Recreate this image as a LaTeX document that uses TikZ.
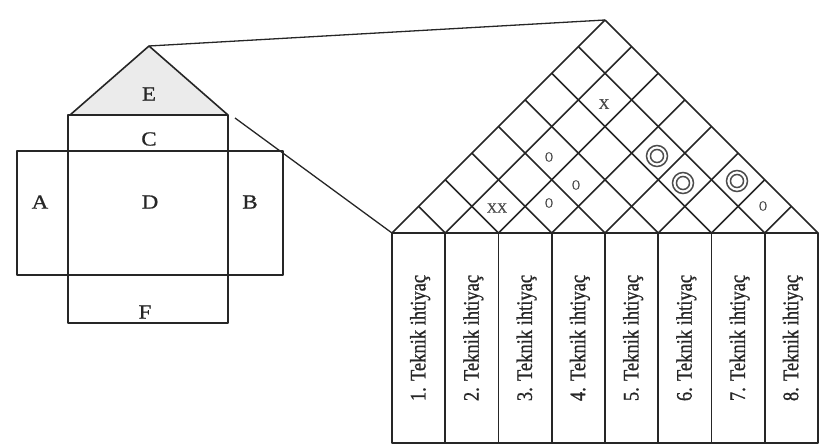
\documentclass[tikz,border=0pt]{standalone}
\usepackage{fontspec}
\setmainfont{Liberation Serif}
\newfontfamily\inkfont[FakeBold=0.9]{Liberation Serif}
\begin{document}
\begin{tikzpicture}[x=1pt,y=-1pt,
  ink/.style={draw=black!85, line width=1.6pt, line join=round},
  thinink/.style={draw=black!85, line width=1.3pt},
  letter/.style={font=\inkfont\fontsize{20}{20}\selectfont, text=black!85, inner sep=0pt},
  collabel/.style={rotate=90, font=\inkfont\fontsize{18.5}{19}\selectfont, text=black!85, inner sep=0pt},
  symb/.style={font=\inkfont\fontsize{14}{14}\selectfont, text=black!70, inner sep=0pt},
  ring/.style={draw=black!70, line width=1.5pt}]
\useasboundingbox (0,0) rectangle (819,447);

% ---- small house of quality ----
\fill[black!8] (70,115) -- (149,46) -- (228,115) -- cycle;
\draw[ink] (68,115) rectangle (228,323);
\draw[ink] (17,151) rectangle (283,275);
\draw[ink] (70,115) -- (149,46) -- (228,115);
\coordinate (roofTop) at (149,46);
\coordinate (roofRight) at (235,118);

\node[letter] (lE) at (149,94) {\scalebox{1.15}[1]{E}};
\node[letter] (lC) at (149,139) {\scalebox{1.15}[1]{C}};
\node[letter] (lA) at (40,202) {\scalebox{1.15}[1]{A}};
\node[letter] (lD) at (150,202) {\scalebox{1.15}[1]{D}};
\node[letter] (lB) at (250,202) {\scalebox{1.15}[1]{B}};
\node[letter] (lF) at (145,312) {\scalebox{1.15}[1]{F}};

% ---- correlation roof (lattice) ----
\coordinate (qApex) at (605,20);
\coordinate (qLeft) at (392,233);
\foreach \i in {0,...,8} {
  \pgfmathsetmacro\xi{392+53.25*\i}
  \pgfmathsetmacro\ur{26.625*(8-\i)}
  \pgfmathsetmacro\ul{26.625*\i}
  \draw[ink] (\xi,233) -- ++(\ur,-\ur);
  \draw[ink] (\xi,233) -- ++(-\ul,-\ul);
}

% ---- technical requirement columns ----
\foreach \i in {1,...,8} {
  \pgfmathsetmacro\xa{392+53.25*(\i-1)}
  \pgfmathsetmacro\xb{392+53.25*\i}
  \pgfmathsetmacro\xc{392+53.25*(\i-0.5)}
  \draw[ink] (\xa,233) rectangle (\xb,443);
  \node[collabel] (col\i) at (\xc+1.5,338) {\scalebox{1}[1.2]{\i. Teknik ihtiyaç}};
}

% ---- connectors from the small house ----
\draw[thinink] (roofTop) -- (qApex);
\draw[thinink] (roofRight) -- (qLeft);

% ---- correlation symbols ----
\node[symb, font=\inkfont\fontsize{15}{15}\selectfont] (m27) at (604,104) {X};
\node[symb] (m23) at (497,208) {XX};
\node[symb] (m25) at (549,157) {\scalebox{0.8}[1]{O}};
\node[symb] (m35) at (576,185) {\scalebox{0.8}[1]{O}};
\node[symb] (m34) at (549,203) {\scalebox{0.8}[1]{O}};
\node[symb] (m78) at (763,206) {\scalebox{0.8}[1]{O}};
\foreach \n/\cx/\cy in {m47/657/156, m57/683/183, m68/737/181} {
  \coordinate (\n) at (\cx,\cy);
  \draw[ring] (\n) circle[radius=10.5];
  \draw[ring] (\n) circle[radius=6.5];
}
\end{tikzpicture}
\end{document}
